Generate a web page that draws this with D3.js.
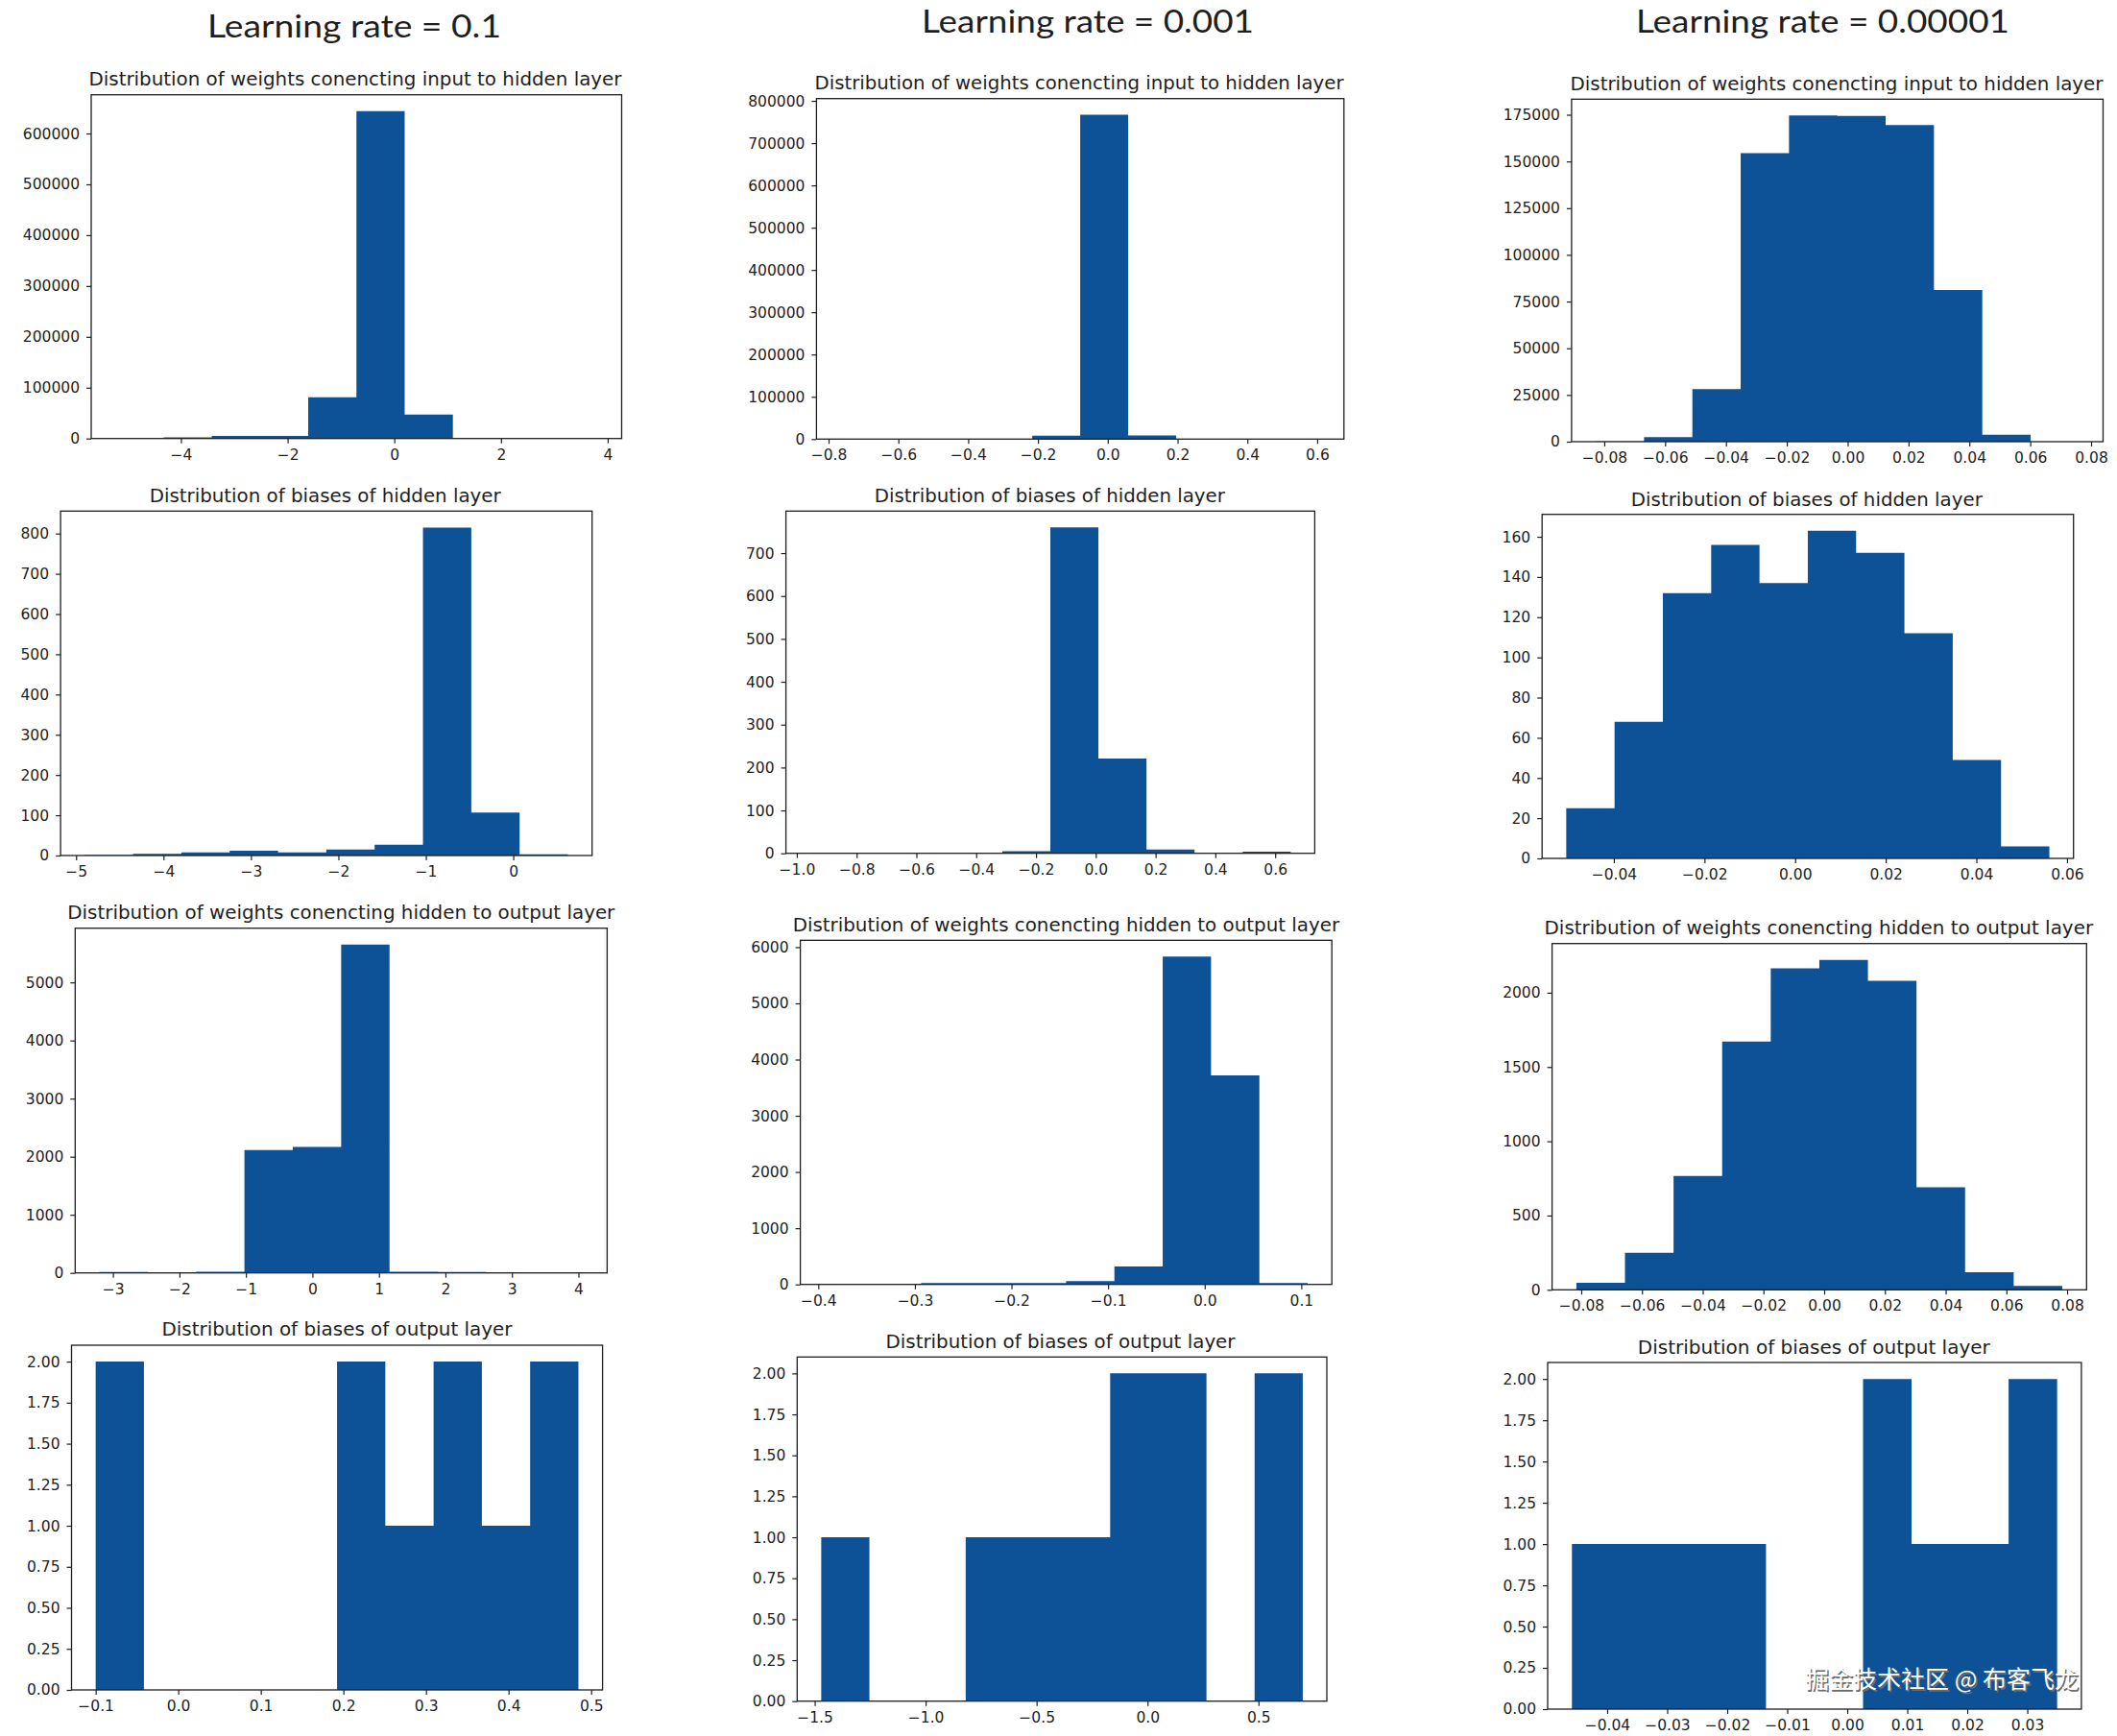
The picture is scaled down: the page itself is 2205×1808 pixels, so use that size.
<!DOCTYPE html>
<html><head><meta charset="utf-8">
<script src="https://cdn.jsdelivr.net/npm/d3@7/dist/d3.min.js"></script>
<style>body{margin:0;background:#fff} svg{display:block}</style>
</head><body>
<svg id="chart" width="2205" height="1808"></svg>
<script>
// ---------- titles ----------
const columnTitles = ["Learning rate = 0.1", "Learning rate = 0.001", "Learning rate = 0.00001"];
const rowTitles = [
  "Distribution of weights conencting input to hidden layer",
  "Distribution of biases of hidden layer",
  "Distribution of weights conencting hidden to output layer",
  "Distribution of biases of output layer"
];
const watermark = "掘金技术社区 @ 布客飞龙";

// ---------- data: value range [min,max] and counts of 10 equal bins ----------
// learning rate 0.1
const lr1_w1_range = [-5.23, 3.81];
const lr1_w1_counts = [1, 2500, 5000, 5000, 81000, 644000, 47000, 150, 20, 1];
const lr1_b1_range = [-4.901, 0.625];
const lr1_b1_counts = [1, 4, 8, 12, 8, 15, 27, 815, 107, 3];
const lr1_w2_range = [-3.204, 4.068];
const lr1_w2_counts = [15, 12, 18, 2115, 2170, 5650, 20, 15, 10, 10];
const lr1_b2_range = [-0.1, 0.4846];
const lr1_b2_counts = [2, 0, 0, 0, 0, 2, 1, 2, 1, 2];
// learning rate 0.001
const lr2_w1_range = [-0.766, 0.608];
const lr2_w1_counts = [1, 20, 150, 500, 8000, 767000, 8500, 100, 10, 1];
const lr2_b1_range = [-0.956, 0.652];
const lr2_b1_counts = [1, 0, 0, 0, 5, 760, 221, 9, 0, 4];
const lr2_w2_range = [-0.3936, 0.1066];
const lr2_w2_counts = [1, 0, 25, 25, 25, 60, 320, 5830, 3720, 24];
const lr2_b2_range = [-1.4705, 0.6995];
const lr2_b2_counts = [1, 0, 0, 1, 1, 1, 2, 2, 0, 2];
// learning rate 0.00001
const lr3_w1_range = [-0.0828, 0.0760];
const lr3_w1_counts = [100, 2400, 28200, 154500, 174600, 174400, 169500, 81200, 3760, 60];
const lr3_b1_range = [-0.0505, 0.0561];
const lr3_b1_counts = [25, 68, 132, 156, 137, 163, 152, 112, 49, 6];
const lr3_w2_range = [-0.0816, 0.0784];
const lr3_w2_counts = [47, 250, 766, 1672, 2165, 2220, 2080, 690, 119, 26];
const lr3_b2_range = [-0.04587, 0.03497];
const lr3_b2_counts = [1, 1, 1, 1, 0, 0, 2, 1, 1, 2];

// ---------- tick labels ----------
const lr1_w1_xticks = [-4, -2, 0, 2, 4];
const lr1_w1_yticks = [0, 100000, 200000, 300000, 400000, 500000, 600000];
const lr1_b1_xticks = [-5, -4, -3, -2, -1, 0];
const lr1_b1_yticks = [0, 100, 200, 300, 400, 500, 600, 700, 800];
const lr1_w2_xticks = [-3, -2, -1, 0, 1, 2, 3, 4];
const lr1_w2_yticks = [0, 1000, 2000, 3000, 4000, 5000];
const lr1_b2_xticks = [-0.1, 0.0, 0.1, 0.2, 0.3, 0.4, 0.5];
const lr2_w1_xticks = [-0.8, -0.6, -0.4, -0.2, 0.0, 0.2, 0.4, 0.6];
const lr2_w1_yticks = [0, 100000, 200000, 300000, 400000, 500000, 600000, 700000, 800000];
const lr2_b1_xticks = [-1.0, -0.8, -0.6, -0.4, -0.2, 0.0, 0.2, 0.4, 0.6];
const lr2_b1_yticks = [0, 100, 200, 300, 400, 500, 600, 700];
const lr2_w2_xticks = [-0.4, -0.3, -0.2, -0.1, 0.0, 0.1];
const lr2_w2_yticks = [0, 1000, 2000, 3000, 4000, 5000, 6000];
const lr2_b2_xticks = [-1.5, -1.0, -0.5, 0.0, 0.5];
const lr3_w1_xticks = [-0.08, -0.06, -0.04, -0.02, 0.00, 0.02, 0.04, 0.06, 0.08];
const lr3_w1_yticks = [0, 25000, 50000, 75000, 100000, 125000, 150000, 175000];
const lr3_b1_xticks = [-0.04, -0.02, 0.00, 0.02, 0.04, 0.06];
const lr3_b1_yticks = [0, 20, 40, 60, 80, 100, 120, 140, 160];
const lr3_w2_xticks = [-0.08, -0.06, -0.04, -0.02, 0.00, 0.02, 0.04, 0.06, 0.08];
const lr3_w2_yticks = [0, 500, 1000, 1500, 2000];
const lr3_b2_xticks = [-0.04, -0.03, -0.02, -0.01, 0.00, 0.01, 0.02, 0.03];
const bias_out_yticks = [0, 0.25, 0.5, 0.75, 1.0, 1.25, 1.5, 1.75, 2.0];

const panels = [
  {row:0,col:0,range:lr1_w1_range,counts:lr1_w1_counts,xt:lr1_w1_xticks,xd:0,yt:lr1_w1_yticks,yd:0},
  {row:0,col:1,range:lr2_w1_range,counts:lr2_w1_counts,xt:lr2_w1_xticks,xd:1,yt:lr2_w1_yticks,yd:0},
  {row:0,col:2,range:lr3_w1_range,counts:lr3_w1_counts,xt:lr3_w1_xticks,xd:2,yt:lr3_w1_yticks,yd:0},
  {row:1,col:0,range:lr1_b1_range,counts:lr1_b1_counts,xt:lr1_b1_xticks,xd:0,yt:lr1_b1_yticks,yd:0},
  {row:1,col:1,range:lr2_b1_range,counts:lr2_b1_counts,xt:lr2_b1_xticks,xd:1,yt:lr2_b1_yticks,yd:0},
  {row:1,col:2,range:lr3_b1_range,counts:lr3_b1_counts,xt:lr3_b1_xticks,xd:2,yt:lr3_b1_yticks,yd:0},
  {row:2,col:0,range:lr1_w2_range,counts:lr1_w2_counts,xt:lr1_w2_xticks,xd:0,yt:lr1_w2_yticks,yd:0},
  {row:2,col:1,range:lr2_w2_range,counts:lr2_w2_counts,xt:lr2_w2_xticks,xd:1,yt:lr2_w2_yticks,yd:0},
  {row:2,col:2,range:lr3_w2_range,counts:lr3_w2_counts,xt:lr3_w2_xticks,xd:2,yt:lr3_w2_yticks,yd:0},
  {row:3,col:0,range:lr1_b2_range,counts:lr1_b2_counts,xt:lr1_b2_xticks,xd:1,yt:bias_out_yticks,yd:2},
  {row:3,col:1,range:lr2_b2_range,counts:lr2_b2_counts,xt:lr2_b2_xticks,xd:1,yt:bias_out_yticks,yd:2},
  {row:3,col:2,range:lr3_b2_range,counts:lr3_b2_counts,xt:lr3_b2_xticks,xd:2,yt:bias_out_yticks,yd:2}
];

// ---------- layout (pixel frames) ----------
const frames = [
  {l:95,    r:647.5,  t:98.7,   b:456.7,  cx:370,    ty:89.3,  tw:555},
  {l:850.4, r:1399.8, t:102.7,  b:457.3,  cx:1124,   ty:92.5,  tw:551},
  {l:1636.9,r:2190.5, t:103.3,  b:460,    cx:1913,   ty:93.5,  tw:555},
  {l:63.1,  r:616.7,  t:532.3,  b:891,    cx:338.7,  ty:523.3, tw:366},
  {l:818.6, r:1369.4, t:532.3,  b:888.7,  cx:1093.3, ty:523.3, tw:365},
  {l:1606.2,r:2159.7, t:535.7,  b:894,    cx:1881.8, ty:526.7, tw:366},
  {l:78.3,  r:632.4,  t:966.7,  b:1325.7, cx:355.3,  ty:956.7, tw:570},
  {l:833.6, r:1387.2, t:979.3,  b:1337.7, cx:1110.4, ty:970,   tw:569.5},
  {l:1616.6,r:2173.3, t:982.7,  b:1343.3, cx:1894.3, ty:973.3, tw:571.6},
  {l:74.5,  r:627.6,  t:1401,   b:1760,   cx:351,    ty:1391,  tw:365},
  {l:830.3, r:1382,   t:1413.3, b:1771.7, cx:1104.5, ty:1404,  tw:364},
  {l:1612,  r:2167.9, t:1419,   b:1780,   cx:1889.3, ty:1410,  tw:367}
];
const colTitleLayout = [
  {cx:369, y:39.3, w:306},
  {cx:1133, y:34, w:346},
  {cx:1898.5, y:33.5, w:389}
];

const BAR = "#0d5196";
const INK = "#1e1e1e";
const svg = d3.select("#chart");

// column titles
columnTitles.forEach((t, i) => {
  const L = colTitleLayout[i];
  svg.append("text").attr("x", L.cx).attr("y", L.y)
    .attr("text-anchor", "middle")
    .attr("font-family", "Lato, 'Open Sans', sans-serif")
    .attr("font-size", 33).attr("fill", INK)
    .attr("textLength", L.w).attr("lengthAdjust", "spacingAndGlyphs")
    .text(t);
});

panels.forEach((p, i) => {
  const F = frames[i];
  const g = svg.append("g");
  const [mn, mx] = p.range;
  const S = mx - mn;
  const x = d3.scaleLinear().domain([mn - 0.05 * S, mx + 0.05 * S]).range([F.l, F.r]);
  const y = d3.scaleLinear().domain([0, d3.max(p.counts) * 1.05]).range([F.b, F.t]);
  const w = S / p.counts.length;
  const bins = p.counts.map((c, k) => ({x0: mn + k * w, x1: mn + (k + 1) * w, c}));

  // histogram drawn as one step-shaped area (no seams between bins)
  const pts = bins.concat([{x0: mn + p.counts.length * w, c: 0}]);
  const area = d3.area()
    .x(d => x(d.x0))
    .y0(y(0))
    .y1(d => y(d.c))
    .curve(d3.curveStepAfter);
  g.append("path").datum(pts).attr("d", area).attr("fill", BAR);

  const xf = d3.format("." + p.xd + "f");
  const yf = d3.format("." + p.yd + "f");

  const xa = g.append("g").attr("transform", `translate(0,${F.b})`)
    .call(d3.axisBottom(x).tickValues(p.xt).tickFormat(xf).tickSize(5).tickPadding(6).tickSizeOuter(0));
  const ya = g.append("g").attr("transform", `translate(${F.l},0)`)
    .call(d3.axisLeft(y).tickValues(p.yt).tickFormat(yf).tickSize(5).tickPadding(7).tickSizeOuter(0));
  [xa, ya].forEach(a => {
    a.select(".domain").remove();
    a.selectAll(".tick line").attr("stroke", INK).attr("stroke-width", 1.2);
    a.selectAll(".tick text").attr("fill", INK)
      .attr("font-family", "'DejaVu Sans', sans-serif").attr("font-size", 15.5);
  });

  // frame
  g.append("rect").attr("x", F.l).attr("y", F.t)
    .attr("width", F.r - F.l).attr("height", F.b - F.t)
    .attr("fill", "none").attr("stroke", INK).attr("stroke-width", 1.3);

  // subplot title
  g.append("text").attr("x", F.cx).attr("y", F.ty)
    .attr("text-anchor", "middle")
    .attr("font-family", "'DejaVu Sans', sans-serif").attr("font-size", 19.5)
    .attr("fill", INK)
    .attr("textLength", F.tw).attr("lengthAdjust", "spacingAndGlyphs")
    .text(rowTitles[p.row]);
});

// watermark
[["#6a6a6a", 1.5], ["#ffffff", 0]].forEach(([c, o]) => {
  svg.append("text").attr("x", 1880 + o).attr("y", 1758 + o)
    .attr("font-family", "'Noto Sans CJK SC', sans-serif").attr("font-size", 25)
    .attr("fill", c).attr("textLength", 285).attr("lengthAdjust", "spacingAndGlyphs")
    .text(watermark);
});
</script></body></html>
